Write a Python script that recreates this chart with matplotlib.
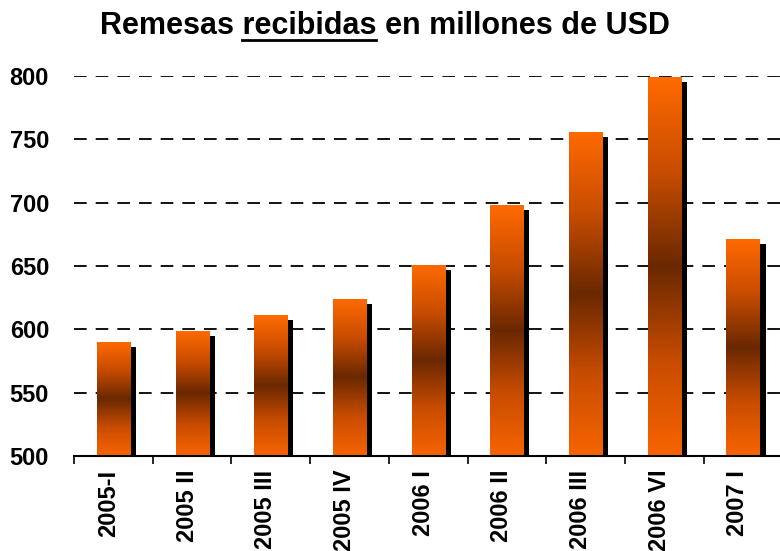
import numpy as np
import matplotlib
matplotlib.use('Agg')
import matplotlib.pyplot as plt
import matplotlib.transforms as mtransforms
from matplotlib.colors import LinearSegmentedColormap
from matplotlib.lines import Line2D

periodos = ['2005-I', '2005 II', '2005 III', '2005 IV', '2006 I', '2006 II', '2006 III', '2006 VI', '2007 I']
remesas = [590, 599, 611, 624, 651, 698, 756, 799, 671]
base = 500

plt.rcParams['font.family'] = ['Liberation Sans', 'DejaVu Sans']

fig = plt.figure(figsize=(7.8, 5.51), dpi=100)
ax = fig.add_axes([0.095, 0.1725, 0.908, 0.6897])

x = np.arange(len(periodos))
ancho = 0.42
valores = np.array(remesas, dtype=float)

# sombra negra desplazada
sombra = mtransforms.ScaledTranslation(6 / 100, -5 / 100, fig.dpi_scale_trans)
ax.bar(x, valores - base, ancho, bottom=base, color='black',
       transform=ax.transData + sombra, zorder=2)

# barras con degradado naranja - marron - naranja
cmap = LinearSegmentedColormap.from_list('naranja', ['#ff6a00', '#c84c00', '#6a2800', '#c84c00', '#f86400'])
grad = np.linspace(0, 1, 256).reshape(-1, 1)
barras = ax.bar(x, valores - base, ancho, bottom=base, color='none', zorder=3)
for b in barras:
    x0, y0 = b.get_x(), b.get_y()
    im = ax.imshow(grad, extent=[x0, x0 + b.get_width(), y0, y0 + b.get_height()],
                   aspect='auto', cmap=cmap, origin='upper', zorder=3)
    im.set_clip_path(b)

ax.set_xlim(-0.5, len(periodos) - 0.5)
ax.set_ylim(500, 800)
ax.set_yticks(range(500, 801, 50))
ax.set_xticks(x)
ax.set_xticklabels(periodos, rotation=90, fontsize=17, fontweight='bold')
ax.set_xticks(np.arange(-0.5, len(periodos)), minor=True)
ax.tick_params(axis='x', which='major', length=0, pad=10)
ax.tick_params(axis='x', which='minor', length=6, width=1.2, direction='out')
ax.tick_params(axis='y', length=0, pad=18, labelsize=17)
for t in ax.get_yticklabels():
    t.set_fontweight('bold')
desp = mtransforms.ScaledTranslation(-5 / 100, 0, fig.dpi_scale_trans)
for t in ax.get_xticklabels():
    t.set_transform(t.get_transform() + desp)

for s in ['left', 'right', 'top']:
    ax.spines[s].set_visible(False)
ax.spines['bottom'].set_linewidth(1.5)
ax.spines['bottom'].set_zorder(5)

for v in range(550, 801, 50):
    ax.axhline(v, color='black', linewidth=1.3, linestyle=(0, (7, 5)), zorder=1)

# titulo con "recibidas" subrayado
titulo = fig.text(0.493, 0.953, 'Remesas recibidas en millones de USD',
                  ha='center', va='center', fontsize=22, fontweight='bold')
fig.canvas.draw()
r = fig.canvas.get_renderer()
ext = titulo.get_window_extent(r)
def ancho_txt(s):
    t = fig.text(0, 0, s, fontsize=22, fontweight='bold')
    w = t.get_window_extent(r).width
    t.remove()
    return w
fin = ancho_txt('Remesas recibidas')
ini = fin - ancho_txt('recibidas')
yl = ext.y0 + 1
fig.add_artist(Line2D([(ext.x0 + ini) / fig.bbox.width, (ext.x0 + fin) / fig.bbox.width],
                      [yl / fig.bbox.height] * 2, color='black', linewidth=2))

fig.savefig('out.png', dpi=100)
